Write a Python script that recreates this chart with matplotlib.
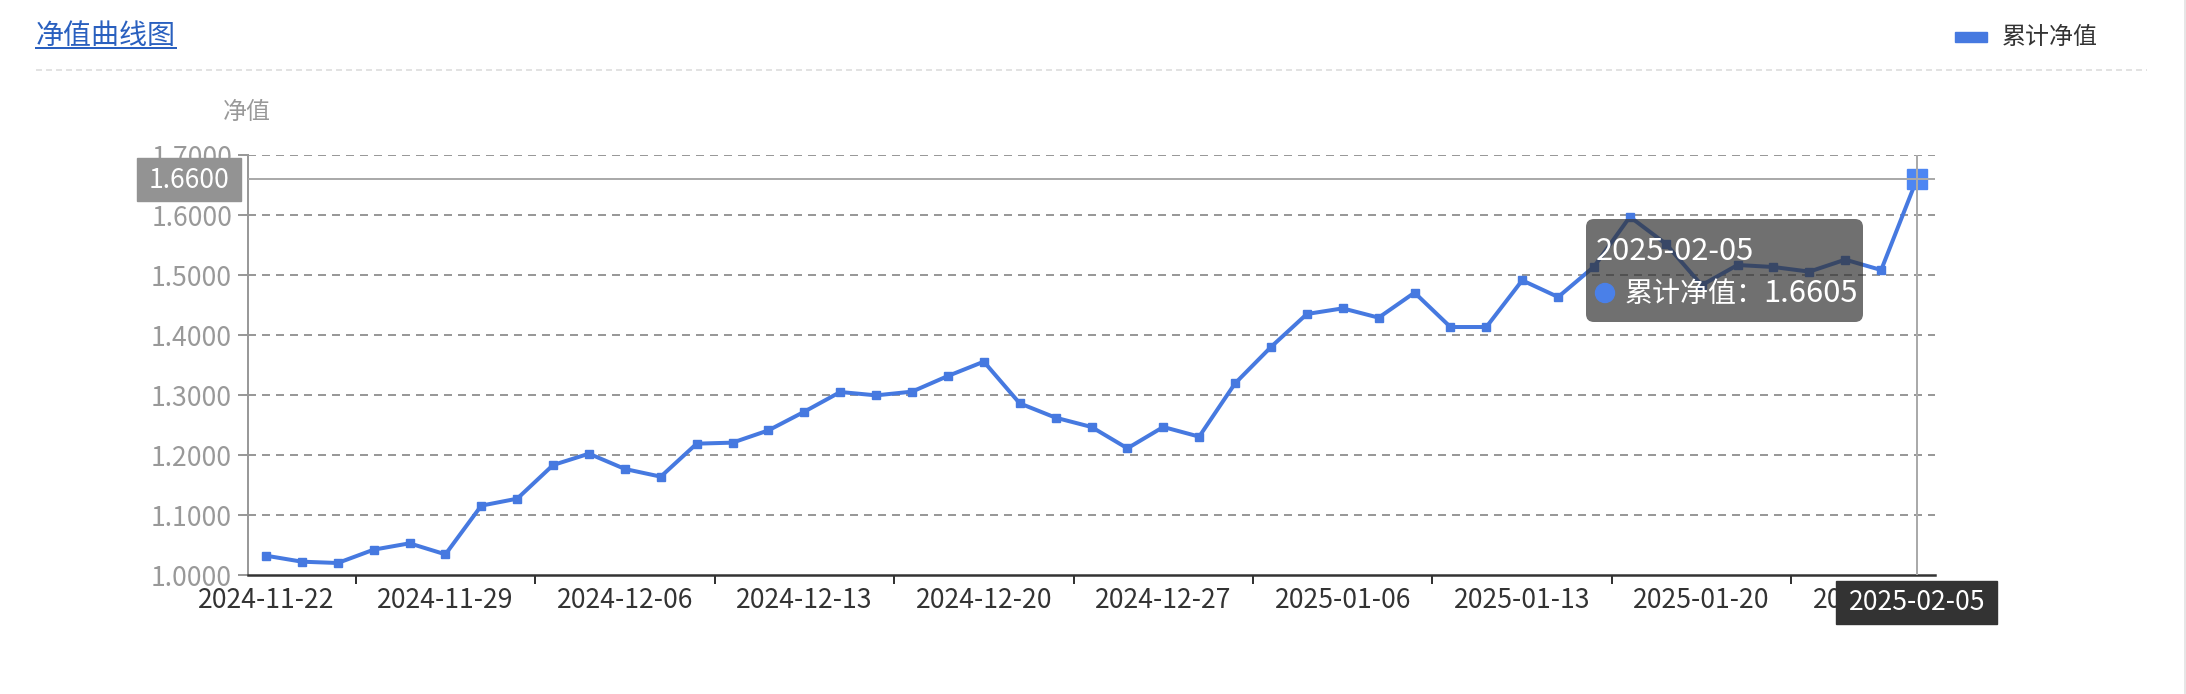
import matplotlib
matplotlib.use('Agg')
import matplotlib.pyplot as plt
from matplotlib.patches import FancyBboxPatch, Rectangle, Circle

plt.rcParams['font.family'] = ['Noto Sans CJK SC', 'DejaVu Sans']

# --- data ---
dates = ['2024-11-22', '2024-11-25', '2024-11-26', '2024-11-27', '2024-11-28', '2024-11-29',
         '2024-12-02', '2024-12-03', '2024-12-04', '2024-12-05', '2024-12-06',
         '2024-12-09', '2024-12-10', '2024-12-11', '2024-12-12', '2024-12-13',
         '2024-12-16', '2024-12-17', '2024-12-18', '2024-12-19', '2024-12-20',
         '2024-12-23', '2024-12-24', '2024-12-25', '2024-12-26', '2024-12-27',
         '2024-12-30', '2024-12-31', '2025-01-02', '2025-01-03', '2025-01-06',
         '2025-01-07', '2025-01-08', '2025-01-09', '2025-01-10', '2025-01-13',
         '2025-01-14', '2025-01-15', '2025-01-16', '2025-01-17', '2025-01-20',
         '2025-01-21', '2025-01-22', '2025-01-23', '2025-01-24', '2025-01-27',
         '2025-02-05']
nav = [1.0322, 1.0222, 1.0200, 1.0422, 1.0528, 1.0344, 1.1156, 1.1272, 1.1833, 1.2022,
       1.1767, 1.1639, 1.2189, 1.2206, 1.2411, 1.2722, 1.3050, 1.2994, 1.3056, 1.3317,
       1.3556, 1.2861, 1.2622, 1.2467, 1.2111, 1.2467, 1.2306, 1.3194, 1.3800, 1.4350,
       1.4444, 1.4289, 1.4706, 1.4133, 1.4133, 1.4911, 1.4633, 1.5139, 1.5970, 1.5520,
       1.4830, 1.5167, 1.5133, 1.5056, 1.5256, 1.5083, 1.6605]
y_ticks = [1.0, 1.1, 1.2, 1.3, 1.4, 1.5, 1.6, 1.7]
label_step = 5
series_name = '累计净值'
pointer_idx = 46      # hovered point
pointer_y = 1.66      # horizontal crosshair value

BLUE = '#4679e0'
W, H, DPI = 2186, 694, 100
NUM = 26.5   # font px for numbers (reference font has wider digits)


def px(v):
    # pixels -> points
    return v * 72 / DPI


fig = plt.figure(figsize=(W / DPI, H / DPI), dpi=DPI)
ax = fig.add_axes([248 / W, 1 - 575 / H, (1935 - 248) / W, (575 - 155) / H])

x = list(range(len(dates)))
ax.plot(x, nav, color=BLUE, lw=px(4), marker='s', ms=px(8.5), zorder=3)
ax.plot([pointer_idx], [nav[pointer_idx]], 's', color='#4d86f3', ms=px(20), zorder=3)

for v in y_ticks[1:]:
    ax.axhline(v, color='#999999', lw=px(2), ls=(0, (4, 3)), zorder=1)

# crosshair
ax.axhline(pointer_y, color='#aaaaaa', lw=px(2), zorder=4)
ax.axvline(pointer_idx, color='#aaaaaa', lw=px(2), zorder=4)

ax.set_xlim(-0.5, len(dates) - 0.5)
ax.set_ylim(y_ticks[0], y_ticks[-1])
ax.set_xticks([i + 2.5 for i in range(0, len(dates) - 5, label_step)])
ax.set_xticks(range(0, len(dates), label_step), minor=True)
ax.set_xticklabels([dates[i] for i in range(0, len(dates), label_step)], minor=True)
ax.tick_params(axis='x', which='major', length=px(9), width=px(2), color='#333333',
               labelbottom=False)
ax.tick_params(axis='x', which='minor', length=0, pad=px(12), labelsize=px(NUM),
               labelcolor='#333333')
ax.set_yticks(y_ticks)
ax.set_yticklabels([f'{v:.4f}' for v in y_ticks])
ax.tick_params(axis='y', length=px(10), width=px(2), color='#999999', pad=px(6),
               labelsize=px(NUM), labelcolor='#999999')

for s in ['top', 'right']:
    ax.spines[s].set_visible(False)
ax.spines['left'].set_color('#999999')
ax.spines['left'].set_linewidth(px(2))
ax.spines['bottom'].set_color('#333333')
ax.spines['bottom'].set_linewidth(px(2.5))

# pixel positions of the hovered point
px_x, _ = ax.transData.transform((pointer_idx, nav[pointer_idx]))
_, cross_y = ax.transData.transform((pointer_idx, pointer_y))
cross_y = H - cross_y

# overlay in pixel coordinates for title, legend and tooltips
ov = fig.add_axes([0, 0, 1, 1], zorder=10)
ov.set_xlim(0, W)
ov.set_ylim(H, 0)
ov.axis('off')
ov.patch.set_alpha(0)

title = ov.text(36, 36, '净值曲线图', fontsize=px(28), color='#2a60bf', ha='left', va='center')
fig.canvas.draw()
renderer = fig.canvas.get_renderer()
bb = title.get_window_extent(renderer)
ov.plot([bb.x0, bb.x1], [48, 48], color='#2a60bf', lw=px(2))

ov.plot([36, 2147], [70, 70], color='#e2e2e2', lw=px(2), ls=(0, (3, 2)))
ov.plot([2185, 2185], [0, H], color='#e6e6e6', lw=px(2))

ov.add_patch(Rectangle((1955, 32), 32, 10, color=BLUE))
ov.text(2002, 37, series_name, fontsize=px(24), color='#333333', ha='left', va='center')

ov.text(247, 112, '净值', fontsize=px(24), color='#999999', ha='center', va='center')

# y axis pointer label
ov.add_patch(Rectangle((137, cross_y - 21.5), 104, 43, color='#939393'))
ov.text(189, cross_y + 1, f'{pointer_y:.4f}', fontsize=px(NUM), color='white',
        ha='center', va='center')

# x axis pointer label
ov.add_patch(Rectangle((px_x - 81, 581), 161, 43, color='#333333'))
ov.text(px_x, 603, dates[pointer_idx], fontsize=px(NUM), color='white',
        ha='center', va='center')

# tooltip
ov.add_patch(FancyBboxPatch((1586, 219), 277, 103, boxstyle='round,pad=0,rounding_size=8',
                            fc=(0.2, 0.2, 0.2, 0.7), ec='none'))
ov.text(1596, 260, dates[pointer_idx], fontsize=px(NUM * 28 / 24), color='white',
        ha='left', va='baseline')
ov.add_patch(Circle((1605, 293), 9.5, color='#4a80e8'))
name_txt = ov.text(1625, 302, f'{series_name}：', fontsize=px(28), color='white',
                   ha='left', va='baseline')
fig.canvas.draw()
nb = name_txt.get_window_extent(renderer)
ov.text(nb.x1 - 2, 302, f'{nav[pointer_idx]:.4f}', fontsize=px(NUM * 28 / 24),
        color='white', ha='left', va='baseline')

fig.savefig('out.png', dpi=DPI)
